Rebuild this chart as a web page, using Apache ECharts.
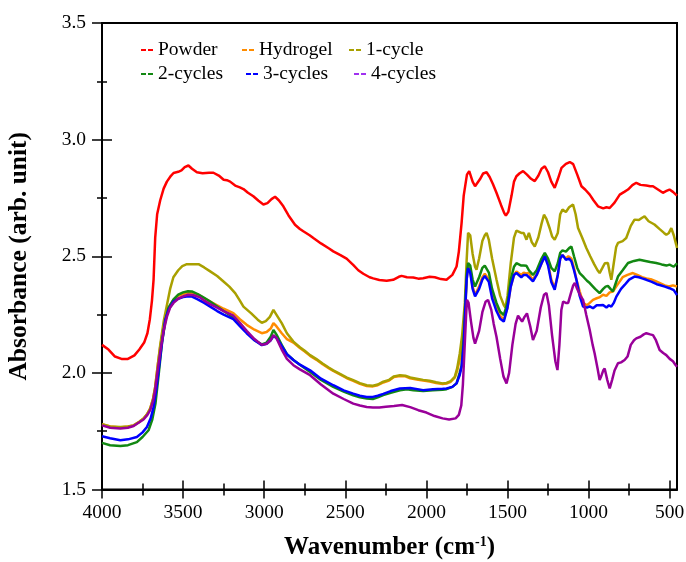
<!DOCTYPE html>
<html><head><meta charset="utf-8">
<script src="https://cdn.jsdelivr.net/npm/echarts@6/dist/echarts.min.js"></script>
<style>html,body{margin:0;padding:0;background:#fff}#c{width:686px;height:562px}</style>
</head><body><div id="c"></div>
<script>
const seriesNames = ['Powder','Hydrogel','1-cycle','2-cycles','3-cycles','4-cycles'];
const xMajorTicks = [500,1000,1500,2000,2500,3000,3500,4000];
const xMinorTicks = [750,1250,1750,2250,2750,3250,3750];

const powder = [[4000,2.12],[3960,2.10],[3920,2.07],[3880,2.06],[3840,2.06],[3800,2.075],[3770,2.10],[3740,2.13],[3720,2.17],[3705,2.23],[3692,2.31],[3682,2.40],[3672,2.58],[3660,2.68],[3641,2.74],[3620,2.79],[3600,2.82],[3575,2.845],[3559,2.857],[3530,2.862],[3510,2.868],[3490,2.882],[3467,2.889],[3445,2.875],[3415,2.860],[3380,2.856],[3340,2.858],[3313,2.858],[3280,2.846],[3250,2.828],[3230,2.826],[3210,2.820],[3179,2.803],[3150,2.795],[3128,2.788],[3100,2.772],[3067,2.757],[3035,2.738],[3005,2.722],[2980,2.728],[2955,2.745],[2933,2.755],[2910,2.740],[2882,2.714],[2850,2.675],[2810,2.635],[2780,2.617],[2759,2.607],[2720,2.590],[2697,2.578],[2650,2.555],[2600,2.533],[2574,2.521],[2530,2.505],[2492,2.490],[2450,2.462],[2420,2.440],[2389,2.425],[2350,2.410],[2328,2.405],[2290,2.398],[2245,2.395],[2205,2.399],[2170,2.412],[2153,2.416],[2120,2.410],[2081,2.409],[2050,2.404],[2020,2.406],[1980,2.412],[1948,2.410],[1910,2.402],[1876,2.399],[1840,2.42],[1814,2.456],[1800,2.52],[1783,2.643],[1770,2.76],[1750,2.85],[1736,2.865],[1715,2.82],[1700,2.80],[1691,2.80],[1670,2.83],[1650,2.855],[1629,2.86],[1610,2.84],[1590,2.81],[1568,2.772],[1540,2.72],[1520,2.685],[1510,2.674],[1495,2.69],[1475,2.76],[1460,2.82],[1445,2.843],[1425,2.856],[1404,2.865],[1380,2.85],[1355,2.832],[1332,2.822],[1310,2.845],[1290,2.875],[1270,2.886],[1250,2.86],[1230,2.82],[1209,2.793],[1190,2.83],[1167,2.879],[1140,2.896],[1116,2.904],[1095,2.895],[1070,2.85],[1044,2.80],[1020,2.785],[993,2.764],[970,2.74],[942,2.714],[910,2.705],[890,2.710],[870,2.707],[840,2.73],[808,2.764],[780,2.776],[757,2.786],[730,2.805],[706,2.815],[680,2.806],[644,2.803],[620,2.80],[603,2.80],[570,2.785],[542,2.772],[520,2.780],[501,2.786],[480,2.776],[455,2.76]];

const hydrogel = [[4000,1.78],[3950,1.77],[3887,1.766],[3840,1.77],[3805,1.775],[3770,1.79],[3744,1.804],[3720,1.825],[3703,1.847],[3685,1.89],[3672,1.94],[3655,2.04],[3641,2.112],[3620,2.20],[3600,2.256],[3580,2.29],[3559,2.313],[3530,2.330],[3500,2.338],[3470,2.343],[3440,2.342],[3400,2.333],[3370,2.32],[3333,2.306],[3290,2.29],[3250,2.275],[3190,2.256],[3150,2.23],[3108,2.206],[3060,2.185],[3015,2.17],[2985,2.175],[2960,2.19],[2943,2.213],[2925,2.20],[2892,2.17],[2860,2.145],[2820,2.130],[2780,2.107],[2750,2.092],[2717,2.073],[2680,2.057],[2640,2.037],[2600,2.019],[2574,2.008],[2530,1.992],[2490,1.977],[2451,1.966],[2410,1.953],[2368,1.944],[2330,1.942],[2300,1.947],[2266,1.959],[2230,1.967],[2200,1.982],[2163,1.987],[2130,1.985],[2100,1.977],[2060,1.972],[2020,1.967],[1980,1.963],[1940,1.957],[1900,1.952],[1876,1.954],[1850,1.962],[1825,1.98],[1810,2.01],[1794,2.06],[1780,2.12],[1763,2.25],[1752,2.40],[1743,2.455],[1730,2.44],[1715,2.37],[1700,2.335],[1691,2.333],[1675,2.37],[1655,2.41],[1640,2.425],[1629,2.425],[1615,2.40],[1595,2.34],[1568,2.28],[1545,2.245],[1523,2.228],[1513,2.23],[1500,2.28],[1480,2.37],[1460,2.42],[1445,2.435],[1435,2.435],[1415,2.42],[1400,2.43],[1383,2.425],[1368,2.43],[1350,2.40],[1343,2.398],[1320,2.42],[1290,2.47],[1270,2.50],[1250,2.47],[1230,2.40],[1209,2.365],[1190,2.42],[1175,2.49],[1161,2.505],[1140,2.49],[1125,2.50],[1106,2.49],[1090,2.45],[1075,2.40],[1055,2.35],[1034,2.30],[1010,2.29],[993,2.30],[973,2.313],[950,2.32],[930,2.325],[911,2.335],[890,2.33],[870,2.345],[850,2.349],[830,2.37],[810,2.39],[790,2.41],[760,2.42],[727,2.428],[700,2.42],[670,2.41],[644,2.405],[610,2.40],[583,2.392],[560,2.385],[530,2.375],[505,2.37],[480,2.375],[455,2.37]];

const cycle1 = [[4000,1.78],[3950,1.77],[3887,1.768],[3840,1.77],[3805,1.775],[3770,1.79],[3744,1.804],[3720,1.825],[3703,1.847],[3685,1.89],[3672,1.94],[3655,2.04],[3641,2.12],[3620,2.22],[3600,2.29],[3580,2.36],[3560,2.41],[3530,2.44],[3505,2.458],[3477,2.466],[3440,2.466],[3405,2.466],[3370,2.452],[3333,2.435],[3290,2.415],[3251,2.392],[3215,2.37],[3179,2.342],[3150,2.31],[3128,2.284],[3080,2.255],[3040,2.228],[3015,2.215],[2990,2.222],[2965,2.24],[2943,2.27],[2925,2.25],[2892,2.213],[2860,2.17],[2820,2.134],[2780,2.11],[2750,2.095],[2717,2.076],[2680,2.06],[2640,2.04],[2600,2.022],[2574,2.011],[2530,1.995],[2490,1.98],[2451,1.969],[2410,1.956],[2368,1.947],[2330,1.945],[2300,1.950],[2266,1.962],[2230,1.970],[2200,1.985],[2163,1.990],[2130,1.988],[2100,1.98],[2060,1.975],[2020,1.970],[1980,1.966],[1940,1.960],[1900,1.955],[1876,1.957],[1850,1.965],[1825,1.983],[1810,2.02],[1794,2.084],[1780,2.16],[1763,2.30],[1752,2.48],[1743,2.60],[1730,2.59],[1715,2.51],[1700,2.455],[1691,2.442],[1675,2.49],[1655,2.565],[1640,2.59],[1629,2.60],[1615,2.57],[1595,2.49],[1568,2.40],[1545,2.33],[1523,2.291],[1513,2.28],[1500,2.33],[1480,2.47],[1460,2.58],[1445,2.61],[1435,2.614],[1415,2.60],[1400,2.60],[1383,2.571],[1368,2.60],[1350,2.56],[1332,2.542],[1310,2.58],[1290,2.64],[1275,2.678],[1260,2.66],[1240,2.62],[1225,2.585],[1209,2.571],[1190,2.60],[1175,2.68],[1161,2.70],[1140,2.69],[1120,2.71],[1096,2.722],[1080,2.68],[1065,2.621],[1040,2.58],[1014,2.535],[990,2.50],[965,2.465],[945,2.44],[932,2.428],[915,2.45],[900,2.47],[881,2.471],[870,2.43],[860,2.399],[845,2.47],[830,2.54],[819,2.557],[790,2.565],[768,2.578],[740,2.63],[717,2.657],[690,2.655],[670,2.665],[655,2.671],[630,2.65],[594,2.636],[560,2.615],[535,2.60],[521,2.592],[505,2.60],[490,2.621],[475,2.59],[460,2.55],[455,2.535]];

const cycles2 = [[4000,1.70],[3950,1.69],[3887,1.686],[3840,1.69],[3785,1.703],[3750,1.725],[3713,1.754],[3690,1.80],[3670,1.87],[3651,1.99],[3630,2.13],[3610,2.22],[3590,2.28],[3559,2.315],[3530,2.335],[3500,2.345],[3470,2.35],[3446,2.349],[3410,2.338],[3370,2.322],[3333,2.306],[3290,2.285],[3250,2.265],[3190,2.238],[3150,2.21],[3108,2.175],[3060,2.14],[3015,2.122],[2985,2.13],[2960,2.155],[2943,2.184],[2925,2.165],[2892,2.12],[2860,2.08],[2820,2.055],[2780,2.035],[2717,2.004],[2650,1.97],[2574,1.94],[2510,1.92],[2451,1.904],[2410,1.895],[2368,1.89],[2330,1.888],[2300,1.895],[2266,1.905],[2220,1.915],[2163,1.925],[2120,1.93],[2080,1.925],[2020,1.922],[1960,1.925],[1900,1.928],[1876,1.93],[1840,1.94],[1814,1.955],[1795,2.00],[1783,2.03],[1770,2.15],[1763,2.25],[1752,2.42],[1743,2.471],[1730,2.46],[1715,2.40],[1700,2.37],[1691,2.37],[1675,2.41],[1655,2.45],[1640,2.46],[1629,2.459],[1615,2.43],[1595,2.36],[1568,2.30],[1545,2.262],[1523,2.248],[1513,2.25],[1500,2.30],[1480,2.40],[1460,2.455],[1445,2.47],[1435,2.471],[1415,2.46],[1400,2.46],[1383,2.459],[1368,2.44],[1343,2.42],[1320,2.44],[1290,2.49],[1270,2.514],[1250,2.49],[1230,2.45],[1209,2.435],[1190,2.47],[1175,2.515],[1161,2.525],[1140,2.52],[1120,2.535],[1106,2.542],[1090,2.50],[1070,2.45],[1055,2.428],[1030,2.41],[1010,2.395],[993,2.385],[960,2.36],[932,2.342],[910,2.36],[895,2.37],[881,2.373],[865,2.36],[850,2.349],[835,2.38],[819,2.413],[790,2.44],[757,2.471],[720,2.48],[686,2.485],[650,2.48],[620,2.475],[583,2.471],[550,2.465],[520,2.46],[501,2.464],[475,2.455],[455,2.47]];

const cycles3 = [[4000,1.728],[3950,1.72],[3887,1.711],[3840,1.715],[3785,1.725],[3750,1.745],[3723,1.768],[3700,1.805],[3682,1.853],[3665,1.93],[3651,2.011],[3630,2.13],[3610,2.227],[3590,2.27],[3559,2.306],[3530,2.318],[3500,2.325],[3477,2.327],[3445,2.327],[3410,2.315],[3370,2.30],[3333,2.284],[3290,2.265],[3250,2.25],[3190,2.23],[3150,2.20],[3108,2.17],[3060,2.14],[3015,2.119],[2985,2.125],[2960,2.14],[2943,2.158],[2925,2.15],[2892,2.115],[2860,2.08],[2820,2.055],[2780,2.035],[2717,2.011],[2650,1.975],[2574,1.947],[2510,1.925],[2451,1.911],[2410,1.902],[2368,1.897],[2330,1.897],[2300,1.902],[2266,1.91],[2220,1.922],[2163,1.933],[2153,1.940],[2100,1.935],[2020,1.926],[1960,1.93],[1900,1.932],[1876,1.933],[1840,1.94],[1814,1.955],[1795,1.99],[1783,2.026],[1770,2.12],[1763,2.227],[1752,2.40],[1743,2.449],[1730,2.43],[1715,2.36],[1700,2.328],[1691,2.327],[1675,2.36],[1655,2.40],[1640,2.415],[1629,2.416],[1615,2.39],[1595,2.32],[1568,2.265],[1545,2.232],[1523,2.22],[1513,2.225],[1500,2.28],[1480,2.37],[1460,2.42],[1445,2.428],[1435,2.428],[1415,2.41],[1400,2.42],[1383,2.42],[1368,2.41],[1343,2.392],[1320,2.42],[1290,2.47],[1270,2.499],[1250,2.46],[1230,2.39],[1209,2.356],[1190,2.42],[1175,2.49],[1161,2.506],[1140,2.485],[1120,2.49],[1106,2.478],[1090,2.44],[1075,2.399],[1055,2.33],[1034,2.284],[1010,2.28],[993,2.285],[973,2.277],[950,2.29],[930,2.29],[911,2.291],[890,2.28],[875,2.29],[860,2.284],[845,2.30],[829,2.327],[800,2.36],[778,2.377],[750,2.40],[717,2.413],[690,2.41],[670,2.405],[644,2.399],[610,2.39],[580,2.38],[562,2.377],[530,2.37],[501,2.363],[475,2.355],[455,2.334]];

const cycles4 = [[4000,1.775],[3950,1.765],[3887,1.762],[3840,1.765],[3805,1.772],[3770,1.788],[3744,1.80],[3720,1.82],[3703,1.84],[3685,1.88],[3672,1.93],[3655,2.02],[3641,2.09],[3620,2.18],[3600,2.24],[3580,2.28],[3559,2.30],[3530,2.318],[3500,2.328],[3470,2.335],[3440,2.334],[3400,2.325],[3370,2.31],[3333,2.295],[3290,2.28],[3250,2.265],[3190,2.245],[3150,2.215],[3108,2.18],[3060,2.145],[3015,2.12],[2985,2.125],[2960,2.14],[2943,2.162],[2925,2.15],[2892,2.10],[2860,2.06],[2820,2.033],[2780,2.015],[2717,1.99],[2650,1.95],[2574,1.911],[2510,1.888],[2451,1.868],[2410,1.86],[2368,1.854],[2330,1.852],[2290,1.852],[2250,1.855],[2200,1.858],[2150,1.862],[2100,1.853],[2050,1.84],[2000,1.83],[1950,1.815],[1900,1.805],[1860,1.80],[1820,1.805],[1800,1.82],[1785,1.86],[1775,1.95],[1765,2.10],[1755,2.25],[1750,2.313],[1740,2.30],[1725,2.22],[1710,2.15],[1700,2.125],[1691,2.119],[1675,2.18],[1655,2.26],[1635,2.305],[1620,2.313],[1600,2.27],[1585,2.21],[1568,2.155],[1545,2.06],[1525,1.985],[1506,1.955],[1490,2.00],[1470,2.12],[1450,2.21],[1435,2.245],[1424,2.248],[1410,2.22],[1395,2.24],[1380,2.255],[1373,2.256],[1360,2.20],[1343,2.141],[1320,2.18],[1295,2.28],[1275,2.335],[1260,2.342],[1245,2.29],[1225,2.16],[1205,2.05],[1192,2.012],[1180,2.12],[1168,2.27],[1157,2.306],[1140,2.30],[1126,2.30],[1110,2.34],[1095,2.375],[1085,2.385],[1070,2.36],[1050,2.33],[1034,2.313],[1015,2.25],[993,2.184],[975,2.12],[963,2.084],[945,2.02],[932,1.969],[920,1.99],[910,2.01],[901,2.019],[885,1.97],[870,1.933],[855,1.97],[840,2.01],[819,2.041],[800,2.045],[778,2.055],[760,2.07],[740,2.12],[720,2.14],[706,2.148],[680,2.155],[660,2.165],[644,2.17],[620,2.165],[603,2.162],[585,2.14],[562,2.098],[540,2.085],[521,2.076],[500,2.06],[480,2.05],[465,2.035],[455,2.026]];

const seriesData = [powder, hydrogel, cycle1, cycles2, cycles3, cycles4];
const lineColors = ['#FF0000','#FF8C00','#A9A000','#128812','#0000FF','#990099'];
const legendColors = ['#FF0000','#FF8C00','#A9A000','#128812','#0000FF','#A030F0'];
const legendPos = [[136,35],[237,35],[344,35],[136,59],[241,59],[349,59]];

const FONT = '"Liberation Serif","Times New Roman",serif';
const XMIN = 455, XMAX = 4000;

function xAx(extra){
  return Object.assign({type:'value', position:'bottom', min:XMIN, max:XMAX, inverse:true,
    splitLine:{show:false}, axisLine:{show:false}, axisLabel:{show:false}}, extra);
}

const chart = echarts.init(document.getElementById('c'), null, {renderer:'canvas'});
chart.setOption({
  animation:false,
  backgroundColor:'#fff',
  grid:{left:102, right:9, top:23, bottom:72.5, show:true, borderColor:'#000', borderWidth:2,
    backgroundColor:'transparent', containLabel:false, outerBoundsMode:'none'},
  legend: seriesNames.map((n,i)=>({
    left:legendPos[i][0], top:legendPos[i][1], orient:'horizontal',
    data:[{name:n, itemStyle:{color:legendColors[i]}}],
    icon:'path://M0,0H5V2H0Z M7,0H12V2H7Z', itemWidth:12, itemHeight:2,
    textStyle:{fontFamily:FONT, fontSize:19.5, color:'#000'}, selectedMode:false
  })),
  xAxis:[
    xAx({axisLine:{show:true, onZero:false, lineStyle:{color:'#000', width:2}},
      axisTick:{show:true, inside:false, length:9, customValues:xMajorTicks, lineStyle:{color:'#000', width:1.5}},
      axisLabel:{show:true, customValues:xMajorTicks, margin:13, fontFamily:FONT, fontSize:19.5, color:'#000', formatter:v=>String(v)},
      name:'{t|Wavenumber (cm}{s|-1}{t|)}', nameLocation:'middle', nameGap:46,
      nameTextStyle:{rich:{t:{fontFamily:FONT, fontSize:25, fontWeight:'bold', color:'#000'},
                           s:{fontFamily:FONT, fontSize:14, fontWeight:'bold', color:'#000', verticalAlign:'top', padding:[0,0,10,0]}}}}),
    xAx({axisTick:{show:true, inside:true, length:9, customValues:xMajorTicks, lineStyle:{color:'#000', width:1.5}}}),
    xAx({axisTick:{show:true, inside:false, length:6, customValues:xMinorTicks, lineStyle:{color:'#000', width:1.5}}}),
    xAx({axisTick:{show:true, inside:true, length:6, customValues:xMinorTicks, lineStyle:{color:'#000', width:1.5}}})
  ],
  yAxis:[
    {type:'value', min:1.5, max:3.5, interval:0.5, position:'left',
      axisLine:{show:true, onZero:false, lineStyle:{color:'#000', width:2}},
      axisTick:{show:true, inside:false, length:10, lineStyle:{color:'#000', width:1.5}},
      minorTick:{show:true, splitNumber:2, length:5, lineStyle:{color:'#000', width:1.5}},
      splitLine:{show:false},
      axisLabel:{margin:16, fontFamily:FONT, fontSize:19.5, color:'#000', formatter:v=>v.toFixed(1)},
      name:'Absorbance (arb. unit)', nameLocation:'middle', nameGap:70, nameRotate:90,
      nameTextStyle:{fontFamily:FONT, fontSize:25.5, fontWeight:'bold', color:'#000'}},
    {type:'value', min:1.5, max:3.5, interval:0.5, position:'left',
      axisLine:{show:false}, splitLine:{show:false}, axisLabel:{show:false},
      axisTick:{show:true, inside:true, length:10, lineStyle:{color:'#000', width:1.5}},
      minorTick:{show:true, splitNumber:2, length:5, lineStyle:{color:'#000', width:1.5}}}
  ],
  series: seriesNames.map((n,i)=>({
    name:n, type:'line', xAxisIndex:0, yAxisIndex:0, data:seriesData[i],
    showSymbol:false, symbol:'none', smooth:false,
    lineStyle:{color:lineColors[i], width:2.5}, itemStyle:{color:lineColors[i]}
  }))
});
</script></body></html>
